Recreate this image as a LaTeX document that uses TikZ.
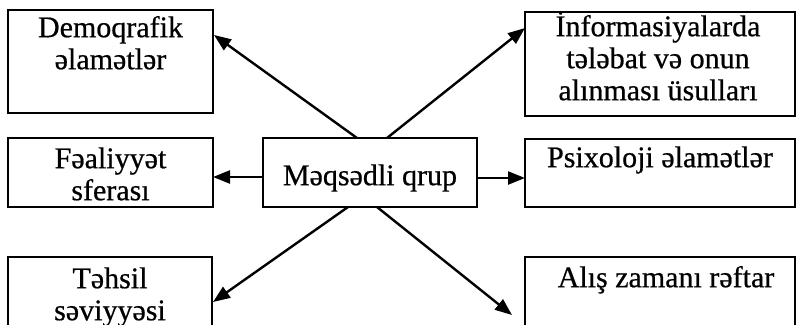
\documentclass[tikz,border=0pt]{standalone}
\usepackage{fontspec}
\setmainfont{Liberation Serif}
\newfontfamily\heavyserif[FakeBold=0.6]{Liberation Serif}
\usetikzlibrary{arrows.meta,calc}
% raises the first line of a label to a fixed height above its baseline
\newcommand\firstline{\rule{0pt}{26pt}}
\begin{document}
\begin{tikzpicture}[x=1pt,y=-1pt,
  box/.style={draw,line width=2.2pt,rectangle,anchor=north west,inner sep=0pt,outer sep=0pt},
  txt/.style={font=\heavyserif\fontsize{30}{32}\selectfont,align=center,inner sep=0pt,anchor=north},
  arr/.style={line width=2.4pt,-{Triangle[length=17pt,width=13pt]}}]
\clip (0,0) rectangle (797,324);
\fill[white] (0,0) rectangle (797,324);

% boxes
\node[box,minimum width=205pt,minimum height=103pt] (dem) at (8,10) {};
\node[box,minimum width=270pt,minimum height=104pt] (info) at (525,12) {};
\node[box,minimum width=205pt,minimum height=69pt] (fea) at (8,138) {};
\node[box,minimum width=214pt,minimum height=69pt] (mq) at (263,138) {};
\node[box,minimum width=270pt,minimum height=68pt] (psi) at (525,139) {};
\node[box,minimum width=204pt,minimum height=90pt] (teh) at (8,257) {};
\node[box,minimum width=270pt,minimum height=90pt] (alis) at (525,257) {};

% labels
\node[txt] (demT) at (110.5,11) {\firstline Demoqrafik\\əlamətlər};
\node[txt] (infoT) at (658,10) {\firstline İnformasiyalarda\\tələbat və onun\\alınması üsulları};
\node[txt] (feaT) at (110.5,142) {\firstline Fəaliyyət\\sferası};
\node[txt] (mqT) at (370,159) {\firstline Məqsədli qrup};
\node[txt] (psiT) at (660,141) {\firstline Psixoloji əlamətlər};
\node[txt] (tehT) at (110,262) {\firstline Təhsil\\səviyyəsi};
\node[txt] (alisT) at (666,261) {\firstline Alış zamanı rəftar};

% connector ends
\coordinate (mqL) at ($(mq.north west)+(0,39)$);
\coordinate (mqR) at ($(mq.north east)+(0,40)$);
\coordinate (alisEnd) at (512,315);

% connectors
\draw[arr] ($(mq.north)+(-13,0)$) -- ($(dem.north east)+(1,25)$);
\draw[arr] ($(mq.north)+(17,0)$) -- ($(info.north west)+(0,16)$);
\draw[arr] (mqL) -- (fea.east |- mqL);
\draw[arr] (mqR) -- (psi.west |- mqR);
\draw[arr] ($(mq.south)+(-22,0)$) -- ($(teh.north east)+(1,45)$);
\draw[arr] ($(mq.south)+(7,0)$) -- (alisEnd);
\end{tikzpicture}
\end{document}
